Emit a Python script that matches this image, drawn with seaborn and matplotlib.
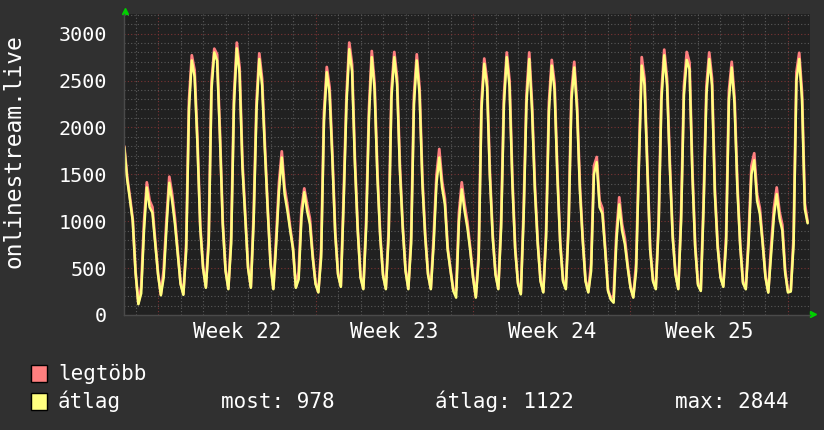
import pandas as pd
import matplotlib
matplotlib.use('Agg')
import matplotlib.pyplot as plt
import matplotlib.dates as mdates
import matplotlib.transforms as mtransforms
from matplotlib.ticker import MultipleLocator
from matplotlib.patches import Rectangle
import seaborn as sns

# 3-hourly samples (00,03,...,21h), first row starts Sat 2023-05-27 12:00
atlag = [
    1790, 1450, 1230, 1000,
    450, 115, 230, 900, 1360, 1150, 1090, 760,
    430, 210, 400, 930, 1410, 1220, 970, 650,
    330, 215, 680, 2200, 2715, 2540, 1820, 930,
    500, 290, 750, 2400, 2800, 2710, 1900, 970,
    470, 275, 760, 2250, 2844, 2570, 1580, 1040,
    500, 290, 1000, 2180, 2730, 2450, 1750, 1110,
    540, 275, 750, 1320, 1680, 1290, 1110, 900,
    700, 290, 380, 1040, 1310, 1110, 970, 610,
    330, 240, 610, 2070, 2590, 2360, 1650, 860,
    430, 300, 1200, 2250, 2835, 2600, 1610, 900,
    400, 275, 930, 2110, 2750, 2400, 1470, 830,
    420, 275, 830, 2320, 2750, 2460, 1540, 930,
    470, 275, 760, 2250, 2715, 2350, 1400, 830,
    430, 275, 750, 1400, 1680, 1360, 1180, 690,
    470, 256, 185, 1000, 1340, 1110, 930, 690,
    400, 185, 580, 2180, 2680, 2430, 1470, 830,
    430, 275, 930, 2250, 2750, 2430, 1400, 690,
    330, 220, 1040, 2250, 2730, 2180, 1330, 760,
    360, 240, 830, 2180, 2660, 2400, 1470, 760,
    360, 275, 930, 2290, 2640, 2180, 1330, 800,
    360, 240, 470, 1500, 1630, 1150, 1080, 690,
    256, 165, 131, 790, 1180, 900, 755, 505,
    290, 185, 470, 1600, 2660, 2450, 1540, 690,
    360, 275, 930, 2290, 2770, 2450, 1570, 830,
    430, 275, 1000, 2350, 2720, 2620, 1500, 720,
    320, 256, 1150, 2350, 2730, 2450, 1290, 720,
    400, 300, 760, 2300, 2640, 2250, 1350, 740,
    340, 274, 760, 1500, 1650, 1220, 1080, 760,
    400, 238, 650, 1050, 1290, 1030, 900, 450,
    240, 250, 755, 2500, 2730, 2300, 1130, 978,
]

legtobb = [
    1800, 1480, 1260, 1020,
    465, 125, 300, 990, 1415, 1220, 1150, 790,
    445, 220, 480, 1020, 1475, 1290, 1030, 680,
    345, 225, 760, 2290, 2770, 2610, 1880, 960,
    515, 300, 830, 2490, 2840, 2780, 1960, 1000,
    485, 285, 840, 2340, 2905, 2640, 1640, 1070,
    515, 300, 1080, 2270, 2790, 2520, 1810, 1140,
    555, 285, 830, 1410, 1745, 1360, 1170, 930,
    715, 300, 460, 1130, 1350, 1180, 1030, 640,
    345, 250, 690, 2160, 2645, 2430, 1710, 890,
    445, 310, 1280, 2340, 2905, 2670, 1670, 930,
    415, 285, 1010, 2200, 2815, 2470, 1530, 860,
    435, 285, 910, 2410, 2805, 2530, 1600, 960,
    485, 285, 840, 2340, 2780, 2420, 1460, 860,
    445, 285, 830, 1490, 1770, 1430, 1240, 720,
    485, 266, 265, 1090, 1415, 1180, 990, 720,
    415, 195, 660, 2270, 2735, 2500, 1530, 860,
    445, 285, 1010, 2340, 2800, 2500, 1460, 720,
    345, 230, 1120, 2340, 2800, 2250, 1390, 790,
    375, 250, 910, 2270, 2720, 2470, 1530, 790,
    375, 285, 1010, 2380, 2700, 2250, 1390, 830,
    375, 250, 550, 1590, 1685, 1220, 1140, 720,
    270, 175, 210, 880, 1255, 970, 815, 535,
    305, 195, 550, 1690, 2750, 2520, 1600, 720,
    375, 285, 1010, 2380, 2830, 2520, 1630, 860,
    445, 285, 1080, 2440, 2805, 2690, 1560, 750,
    335, 266, 1230, 2440, 2800, 2520, 1350, 750,
    415, 310, 840, 2390, 2700, 2320, 1410, 770,
    355, 284, 840, 1590, 1725, 1290, 1140, 790,
    415, 248, 730, 1140, 1360, 1100, 960, 480,
    255, 260, 835, 2590, 2796, 2370, 1190, 990,
]

week_labels = ['Week 22', 'Week 23', 'Week 24', 'Week 25']
week_mid = ['2023-06-01 12:00', '2023-06-08 12:00', '2023-06-15 12:00', '2023-06-22 12:00']
stat_texts = ['most: 978', 'átlag: 1122', 'max: 2844']

times = pd.date_range('2023-05-27 12:00', periods=len(atlag), freq='3h')
df = pd.DataFrame({'time': times, 'legtöbb': legtobb, 'átlag': atlag})

sns.set_style('dark')
plt.rcParams['font.family'] = 'DejaVu Sans Mono'

BG = '#303030'
CANVAS = '#212121'
PINK = '#ff7f7f'
YELLOW = '#ffff7f'
W, H = 824, 430

fig = plt.figure(figsize=(W / 100, H / 100), dpi=100, facecolor=BG)
ax = fig.add_axes([124 / W, 1 - 315 / H, 686 / W, 301 / H])
ax.set_facecolor(CANVAS)

sns.lineplot(data=df, x='time', y='legtöbb', color=PINK, lw=2.0, ax=ax)
sns.lineplot(data=df, x='time', y='átlag', color=YELLOW, lw=1.8, ax=ax)

ax.set_xlim(pd.Timestamp('2023-05-27 11:40'), pd.Timestamp('2023-06-26 23:30'))
ax.set_ylim(0, 3210)

ax.xaxis.set_major_locator(mdates.WeekdayLocator(byweekday=mdates.MO))
ax.xaxis.set_minor_locator(mdates.DayLocator())
ax.yaxis.set_major_locator(MultipleLocator(500))
ax.yaxis.set_minor_locator(MultipleLocator(100))

ax.grid(True, which='major', color='#7a3434', linestyle=(0, (1, 2)), lw=0.8)
ax.grid(True, which='minor', color='#5a5a5a', linestyle=(0, (1, 2)), lw=0.8)
ax.set_axisbelow(True)

ax.tick_params(axis='both', which='both', length=0)
ax.tick_params(axis='x', labelbottom=False)
ax.tick_params(axis='y', colors='white', labelsize=14.5, pad=12)
ax.set_xlabel('')
ax.set_ylabel('')

for side in ['top', 'right']:
    ax.spines[side].set_visible(False)
for side in ['left', 'bottom']:
    ax.spines[side].set_color('#4a4a4a')
    ax.spines[side].set_linewidth(1)

# green arrows at axis ends
ax.plot([0.0015], [1.0116], marker='^', ms=5, color='#00d000', transform=ax.transAxes, clip_on=False)
ax.plot([1.005], [0.002], marker='>', ms=5, color='#00d000', transform=ax.transAxes, clip_on=False)

trans = mtransforms.blended_transform_factory(ax.transData, ax.transAxes)
for lab, mid in zip(week_labels, week_mid):
    ax.text(mdates.date2num(pd.Timestamp(mid)), -0.0764, lab, transform=trans,
            ha='center', va='baseline', color='white', fontsize=15)

fig.text(14 / W, 1 - 151 / H, 'onlinestream.live', rotation=90, ha='center', va='center',
         color='white', fontsize=16.5)

# legend
fig.patches.append(Rectangle((31.5 / W, 1 - 381.5 / H), 15.5 / W, 16.5 / H, transform=fig.transFigure,
                             facecolor=PINK, edgecolor='black', lw=1))
fig.patches.append(Rectangle((31.5 / W, 1 - 409.5 / H), 15.5 / W, 16.5 / H, transform=fig.transFigure,
                             facecolor=YELLOW, edgecolor='black', lw=1))
fig.text(58 / W, 1 - 380 / H, 'legtöbb', color='white', fontsize=15, va='baseline')
fig.text(58 / W, 1 - 408 / H, 'átlag', color='white', fontsize=15, va='baseline')
for txt, xp in zip(stat_texts, [221, 435, 675]):
    fig.text(xp / W, 1 - 408 / H, txt, color='white', fontsize=15, va='baseline')

fig.savefig('out.png', dpi=100, facecolor=BG)
